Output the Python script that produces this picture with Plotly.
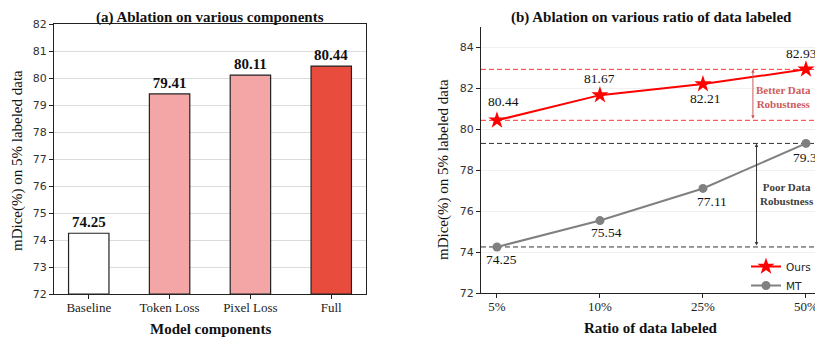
import plotly.graph_objects as go

# ---- data ----
components = ["Baseline", "Token Loss", "Pixel Loss", "Full"]
component_values = [74.25, 79.41, 80.11, 80.44]
bar_colors = ["#ffffff", "#f4a6a6", "#f4a6a6", "#e74c3c"]

ratios = ["5%", "10%", "25%", "50%"]
ours_values = [80.44, 81.67, 82.21, 82.93]
mt_values = [74.25, 75.54, 77.11, 79.31]
ours_label_yshift = [19, 17, -14, 16]
ours_label_xshift = [7, 0, 2, -4]
mt_label_yshift = [-13, -12, -13, -14]
mt_label_xshift = [5, 7, 9, 2]

# the page body has an 8px margin; the figure fills the rest of the 823x344 window
OFF = 8
W, H = 823 - OFF, 344 - OFF
SERIF = "Liberation Serif, Times New Roman, serif"
SANS = "DejaVu Sans, sans-serif"


def px(x):
    return (x - OFF) / W


def py(y):
    return 1 - (y - OFF) / H


fig = go.Figure()

# ---- (a) bars ----
fig.add_trace(go.Bar(
    x=components, y=[v - 72 for v in component_values], base=72,
    marker=dict(color=bar_colors, line=dict(color="#222222", width=1.2)),
    width=0.5, xaxis="x", yaxis="y", showlegend=False,
    text=[f"<b>{v:.2f}</b>" for v in component_values], textposition="outside",
    textfont=dict(family=SERIF, size=15, color="#111111"),
    cliponaxis=False,
))

# ---- (b) lines ----
fig.add_trace(go.Scatter(
    x=ratios, y=ours_values, mode="lines+markers", name="Ours",
    line=dict(color="#ff0000", width=2),
    marker=dict(symbol="star", size=13, color="#ff0000", line=dict(width=0)),
    xaxis="x2", yaxis="y2", cliponaxis=False,
))
fig.add_trace(go.Scatter(
    x=ratios, y=mt_values, mode="lines+markers", name="MT",
    line=dict(color="#808080", width=2),
    marker=dict(symbol="circle", size=9, color="#808080"),
    xaxis="x2", yaxis="y2", cliponaxis=False,
))

annotations = []
# titles
annotations.append(dict(text="<b>(a) Ablation on various components</b>", x=px(210), y=py(17),
                        xref="paper", yref="paper", showarrow=False, xanchor="center", yanchor="middle",
                        font=dict(family=SERIF, size=15, color="#111111")))
annotations.append(dict(text="<b>(b) Ablation on various ratio of data labeled</b>", x=px(651), y=py(17),
                        xref="paper", yref="paper", showarrow=False, xanchor="center", yanchor="middle",
                        font=dict(family=SERIF, size=15, color="#111111")))
# axis titles
annotations.append(dict(text="<b>Model components</b>", x=px(210), y=py(329),
                        xref="paper", yref="paper", showarrow=False, xanchor="center", yanchor="middle",
                        font=dict(family=SERIF, size=15, color="#111111")))
annotations.append(dict(text="<b>Ratio of data labeled</b>", x=px(651), y=py(328),
                        xref="paper", yref="paper", showarrow=False, xanchor="center", yanchor="middle",
                        font=dict(family=SERIF, size=15, color="#111111")))
annotations.append(dict(text="mDice(%) on 5% labeled data", x=px(18), y=py(161), textangle=-90,
                        xref="paper", yref="paper", showarrow=False, xanchor="center", yanchor="middle",
                        font=dict(family=SERIF, size=15, color="#111111")))
annotations.append(dict(text="mDice(%) on 5% labeled data", x=px(443), y=py(170), textangle=-90,
                        xref="paper", yref="paper", showarrow=False, xanchor="center", yanchor="middle",
                        font=dict(family=SERIF, size=15, color="#111111")))

# data labels
for i, (r, v) in enumerate(zip(ratios, ours_values)):
    annotations.append(dict(text=f"{v:.2f}", x=r, y=v, xref="x2", yref="y2", showarrow=False,
                            yshift=ours_label_yshift[i], xshift=ours_label_xshift[i],
                            font=dict(family=SERIF, size=13.5, color="#111111")))
for i, (r, v) in enumerate(zip(ratios, mt_values)):
    annotations.append(dict(text=f"{v:.2f}", x=r, y=v, xref="x2", yref="y2", showarrow=False,
                            yshift=mt_label_yshift[i], xshift=mt_label_xshift[i],
                            font=dict(family=SERIF, size=13.5, color="#111111")))

# robustness arrows
annotations.append(dict(x=2.485, y=ours_values[-1], ax=2.485, ay=ours_values[0],
                        xref="x2", yref="y2", axref="x2", ayref="y2", text="",
                        showarrow=True, arrowhead=2, arrowside="end+start",
                        arrowsize=0.7, arrowwidth=1, arrowcolor="#cd5c5c",
                        standoff=0, startstandoff=0))
annotations.append(dict(x=2.52, y=mt_values[-1], ax=2.52, ay=mt_values[0],
                        xref="x2", yref="y2", axref="x2", ayref="y2", text="",
                        showarrow=True, arrowhead=2, arrowside="end+start",
                        arrowsize=0.7, arrowwidth=1, arrowcolor="#333333",
                        standoff=0, startstandoff=0))
annotations.append(dict(text="<b>Better Data<br>Robustness</b>", x=2.78, y=81.56, xref="x2", yref="y2",
                        showarrow=False, font=dict(family=SERIF, size=11, color="#cd5c5c")))
annotations.append(dict(text="<b>Poor Data<br>Robustness</b>", x=2.82, y=76.83, xref="x2", yref="y2",
                        showarrow=False, font=dict(family=SERIF, size=11, color="#404040")))
fig.update_layout(annotations=annotations)

# dashed reference lines
shapes = []
for v, c in [(ours_values[-1], "#ff3030"), (ours_values[0], "#ff3030"),
             (mt_values[-1], "#333333"), (mt_values[0], "#333333")]:
    shapes.append(dict(type="line", xref="x2 domain", yref="y2", x0=0, x1=1, y0=v, y1=v,
                       line=dict(color=c, width=1, dash="5px,3px"), layer="below"))
fig.update_layout(shapes=shapes)

fig.update_layout(
    width=W, height=H, margin=dict(l=0, r=0, t=0, b=0, autoexpand=False),
    paper_bgcolor="white", plot_bgcolor="white",
    xaxis=dict(domain=[px(54), px(366)], anchor="y", range=[-0.43, 3.43], automargin=False,
               showline=True, mirror=True, linecolor="#222222", linewidth=1.2,
               ticks="outside", ticklen=4, tickcolor="#222222", ticklabelstandoff=-3,
               tickfont=dict(family=SERIF, size=13, color="#222222"),
               showgrid=False),
    yaxis=dict(domain=[py(294), py(24)], anchor="x", range=[72, 82], dtick=1, automargin=False,
               showline=True, mirror=True, linecolor="#222222", linewidth=1.2,
               ticks="outside", ticklen=4, tickcolor="#222222",
               tickfont=dict(family=SANS, size=11, color="#333333"),
               gridcolor="#dcdcdc", gridwidth=1,
               zeroline=False),
    xaxis2=dict(domain=[px(481), px(821)], anchor="y2", range=[-0.155, 3.146], automargin=False,
                showline=True, linecolor="#222222", linewidth=1.2,
                ticks="outside", ticklen=4, tickcolor="#222222", ticklabelstandoff=-3,
                tickfont=dict(family=SERIF, size=13, color="#222222"),
                showgrid=False),
    yaxis2=dict(domain=[py(293), py(27)], anchor="x2", range=[72, 85], automargin=False,
                tickvals=[72, 74, 76, 78, 80, 82, 84],
                showline=True, mirror=True, linecolor="#222222", linewidth=1.2,
                ticks="outside", ticklen=4, tickcolor="#222222",
                tickfont=dict(family=SANS, size=11, color="#333333"),
                gridcolor="#f0f0f0", gridwidth=1,
                zeroline=False),
    legend=dict(x=px(816), xanchor="right", y=py(252), yanchor="top",
                bgcolor="rgba(255,255,255,0)", font=dict(family=SANS, size=10.5, color="#222222"),
                itemwidth=30, tracegroupgap=0),
)

fig.write_html("out.html")
